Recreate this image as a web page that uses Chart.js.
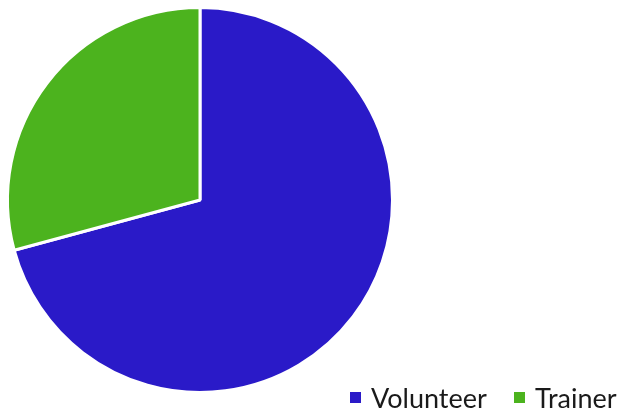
<!DOCTYPE html>
<html>
<head>
<meta charset="utf-8">
<script src="https://cdn.jsdelivr.net/npm/chart.js@4"></script>
<style>
  html, body { margin: 0; padding: 0; background: #fff; }
  #wrap { position: relative; width: 625px; height: 414px; }
  .item { position: absolute; top: 383px; font-family: Lato, sans-serif; font-size: 27px; color: #1a1a1a; white-space: nowrap; line-height: 30px; }
  .box { position: absolute; top: 392px; width: 11px; height: 11px; }
</style>
</head>
<body>
<div id="wrap">
  <canvas id="pieChart" width="625" height="414"></canvas>
  <div id="legend"></div>
</div>
<script>
const categories = ['Volunteer', 'Trainer'];
const values = [70.8, 29.2];
const colors = ['#2a1ac8', '#4cb31e'];

document.addEventListener('DOMContentLoaded', () => {
    new Chart(document.getElementById('pieChart'), {
        type: 'pie',
        data: {
            labels: categories,
            datasets: [{
                data: values,
                backgroundColor: colors,
                borderColor: '#ffffff',
                borderWidth: 3
            }]
        },
        options: {
            responsive: false,
            animation: false,
            layout: { padding: { left: 6, top: 6, right: 231, bottom: 20 } },
            plugins: {
                legend: { display: false },
                tooltip: { enabled: false }
            }
        }
    });

    // legend drawn as html text
    const legend = document.getElementById('legend');
    const boxX = [350, 514];
    const textX = [371, 535];
    categories.forEach((name, i) => {
        const box = document.createElement('div');
        box.className = 'box';
        box.style.left = boxX[i] + 'px';
        box.style.background = colors[i];
        legend.appendChild(box);
        const label = document.createElement('div');
        label.className = 'item';
        label.style.left = textX[i] + 'px';
        label.textContent = name;
        legend.appendChild(label);
    });
});
</script>
</body>
</html>
